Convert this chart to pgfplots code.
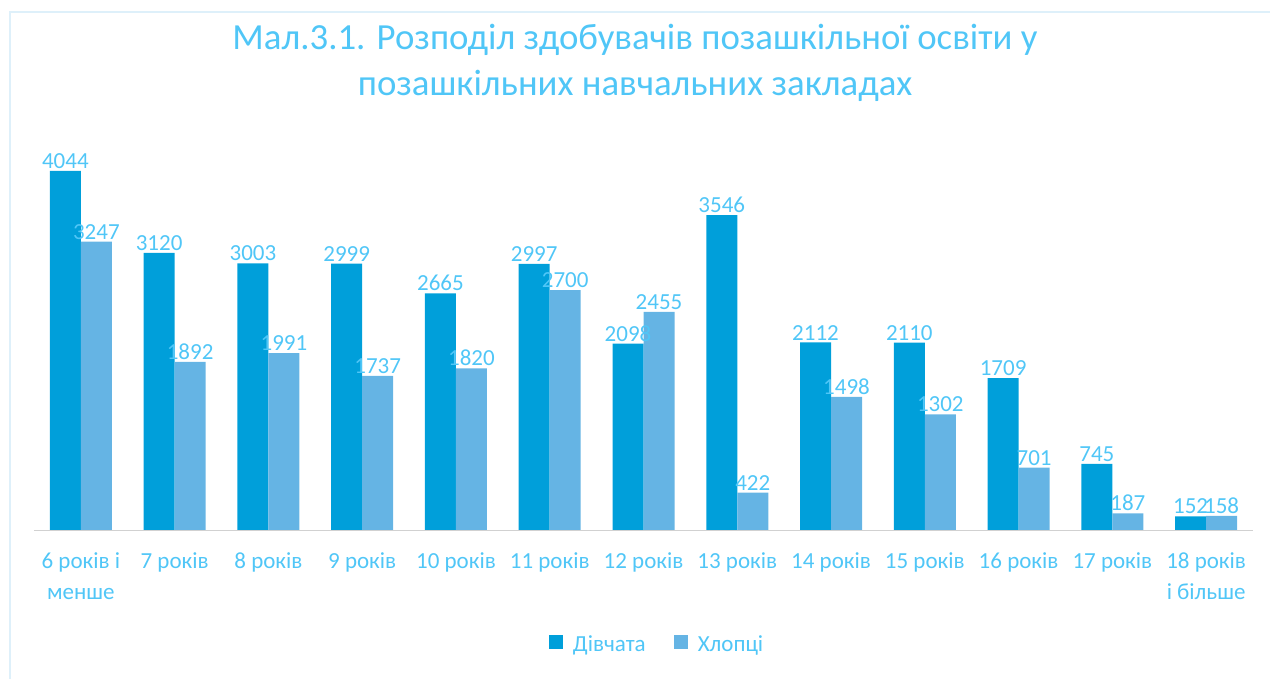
\documentclass[border=0pt]{standalone}
\usepackage{pgfplots}
\pgfplotsset{compat=1.18}
\usepackage{fontspec}
\setmainfont{Carlito}
\definecolor{girls}{RGB}{0,159,218}
\definecolor{boys}{RGB}{101,180,228}
\definecolor{txt}{RGB}{80,198,247}
\definecolor{frm}{RGB}{222,240,250}
\begin{document}
\begin{tikzpicture}
\begin{scope}[x=0.5pt,y=0.5pt]
\useasboundingbox (0,0) rectangle (1270,679);
\draw[frm, line width=1pt] (10,-10) -- (10,667) -- (1290,667);
\node[txt, font=\fontsize{18.4}{23}\selectfont, align=center] at (635,616) {Мал.3.1. Розподіл здобувачів позашкільної освіти у\\позашкільних навчальних закладах};
\end{scope}
\begin{axis}[
  at={(17pt,74.5pt)}, anchor=south west,
  scale only axis, width=609.5pt, height=199.8pt,
  ybar=0pt, bar width=15.5pt,
  ymin=0, ymax=4500, xmin=-0.5, xmax=12.5,
  axis y line=none, axis x line*=bottom,
  x axis line style={draw=black!18, -},
  xtick={0,...,12}, major tick length=0pt,
  xticklabels={{6 років і\\менше},7 років,8 років,9 років,10 років,11 років,12 років,13 років,14 років,15 років,16 років,17 років,{18 років\\і більше}},
  xticklabel style={txt, font=\fontsize{11.5}{15.5}\selectfont, align=center, yshift=-8pt},
  /pgf/number format/assume math mode=true,
  /pgf/number format/1000 sep={},
  nodes near coords,
  nodes near coords style={txt, font=\fontsize{11.5}{12}\selectfont, inner sep=1pt},
  legend columns=2,
  legend style={draw=none, at={(0.512,-0.2875)}, anchor=center, font=\fontsize{11.5}{13}\selectfont, text=txt, /tikz/every even column/.append style={column sep=12pt}},
  legend image code/.code={\fill[#1] (0pt,-2pt) rectangle (7pt,5pt); \path (10pt,0pt);},
]
\addplot[fill=girls, draw=none] coordinates {(0,4044) (1,3120) (2,3003) (3,2999) (4,2665) (5,2997) (6,2098) (7,3546) (8,2112) (9,2110) (10,1709) (11,745) (12,152)};
\addplot[fill=boys, draw=none] coordinates {(0,3247) (1,1892) (2,1991) (3,1737) (4,1820) (5,2700) (6,2455) (7,422) (8,1498) (9,1302) (10,701) (11,187) (12,158)};
\legend{Дівчата,Хлопці}
\end{axis}
\end{tikzpicture}
\end{document}
